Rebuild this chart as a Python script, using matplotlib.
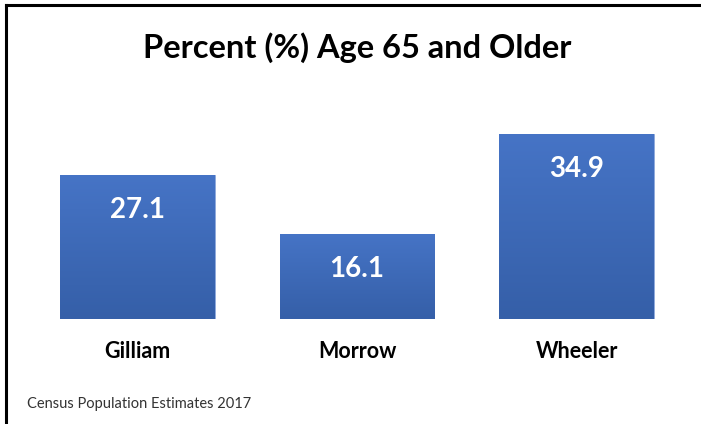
import numpy as np
import matplotlib.pyplot as plt
from matplotlib.lines import Line2D
from matplotlib.colors import LinearSegmentedColormap

counties = ["Gilliam", "Morrow", "Wheeler"]
pct_65_older = [27.1, 16.1, 34.9]

plt.rcParams['font.family'] = ['Lato', 'DejaVu Sans']

fig = plt.figure(figsize=(7.01, 4.24), dpi=100)
ax = fig.add_axes([27.75 / 701, 105 / 424, 658.5 / 701, 212.4 / 424])

# gradient fill for bars (lighter top, darker bottom)
cmap = LinearSegmentedColormap.from_list("barblue", ["#355fa8", "#4674c6"])
grad = np.linspace(0, 1, 256).reshape(-1, 1)

x = np.arange(len(counties))
bars = ax.bar(x, pct_65_older, width=0.706, color="none", edgecolor="#7c9bd6", linewidth=0.6)
for name, b, v in zip(counties, bars, pct_65_older):
    x0, w, h = b.get_x(), b.get_width(), b.get_height()
    im = ax.imshow(grad, extent=[x0, x0 + w, 0, h], origin="lower", cmap=cmap,
                   aspect="auto", zorder=1)
    im.set_clip_path(b)
    ax.text(x0 + w / 2, h - 6.6, f"{v}", ha="center", va="center", color="white",
            fontsize=20, fontweight="bold", zorder=3)
    ax.text(x0 + w / 2, -6.2, name, ha="center", va="center",
            color="black", fontsize=15.5, fontweight="bold")

ax.set_xlim(-0.5, 2.5)
ax.set_ylim(0, 40)
ax.axis("off")

fig.text(357 / 701, 1 - 48 / 424, "Percent (%) Age 65 and Older", ha="center", va="center",
         fontsize=23.5, fontweight="bold")
fig.text(27 / 701, 1 - 404 / 424, "Census Population Estimates 2017", ha="left", va="center",
         fontsize=10.5, color="#333333")

# frame lines (top and left only, as in the cropped screenshot)
fig.add_artist(Line2D([6 / 701, 1], [1 - 5 / 424, 1 - 5 / 424], color="black", lw=2.2,
                      transform=fig.transFigure))
fig.add_artist(Line2D([6 / 701, 6 / 701], [1 - 5 / 424, 0], color="black", lw=2.2,
                      transform=fig.transFigure))

plt.savefig("out.png", dpi=100)
